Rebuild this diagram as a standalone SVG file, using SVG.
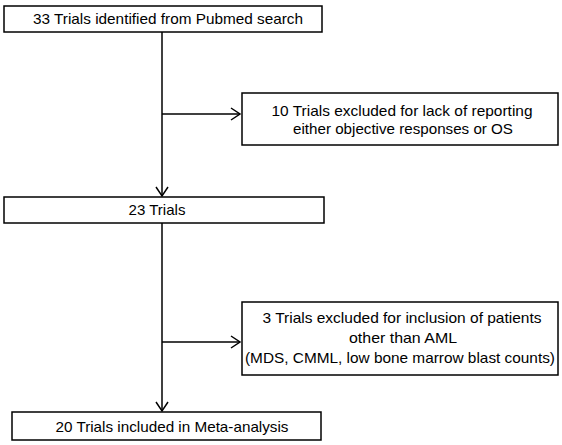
<svg xmlns="http://www.w3.org/2000/svg" width="562" height="445" viewBox="0 0 562 445">
<style>
.box{fill:#fff;stroke:#000;stroke-width:1.5}
.t{font-family:"Liberation Sans",Arial,sans-serif;font-size:15px;fill:#000;text-anchor:middle}
.c{stroke:#000;stroke-width:1.5;fill:none}
</style>
<defs>
<marker id="ah" markerWidth="12" markerHeight="14" refX="10" refY="7" orient="auto" markerUnits="userSpaceOnUse">
<path d="M1,1 L10,7 L1,13" fill="none" stroke="#000" stroke-width="1.5"/>
</marker>
</defs>
<rect width="562" height="445" fill="#fff"/>
<g id="connectors">
<line class="c" x1="162" y1="31" x2="162" y2="196" marker-end="url(#ah)"/>
<line class="c" x1="162" y1="114" x2="240" y2="114" marker-end="url(#ah)"/>
<line class="c" x1="162" y1="223" x2="162" y2="411" marker-end="url(#ah)"/>
<line class="c" x1="162" y1="342" x2="240" y2="342" marker-end="url(#ah)"/>
</g>
<g id="n1">
<rect class="box" x="4" y="6" width="318" height="26"/>
<text class="t" x="168" y="24" textLength="270" lengthAdjust="spacingAndGlyphs">33 Trials identified from Pubmed search</text>
</g>
<g id="n2">
<rect class="box" x="242" y="93" width="316" height="52"/>
<text class="t" x="402" y="116" textLength="261" lengthAdjust="spacingAndGlyphs">10 Trials excluded for lack of reporting</text>
<text class="t" x="403" y="134" textLength="220" lengthAdjust="spacingAndGlyphs">either objective responses or OS</text>
</g>
<g id="n3">
<rect class="box" x="4" y="197" width="320" height="26"/>
<text class="t" x="157" y="215" textLength="57" lengthAdjust="spacingAndGlyphs">23 Trials</text>
</g>
<g id="n4">
<rect class="box" x="242" y="302" width="316" height="73"/>
<text class="t" x="402" y="323" textLength="279" lengthAdjust="spacingAndGlyphs">3 Trials excluded for inclusion of patients</text>
<text class="t" x="403" y="343" textLength="108" lengthAdjust="spacingAndGlyphs">other than AML</text>
<text class="t" x="400" y="363" textLength="310" lengthAdjust="spacingAndGlyphs">(MDS, CMML, low bone marrow blast counts)</text>
</g>
<g id="n5">
<rect class="box" x="12" y="412" width="309" height="28"/>
<text class="t" x="172" y="432" textLength="233" lengthAdjust="spacingAndGlyphs">20 Trials included in Meta-analysis</text>
</g>
</svg>
